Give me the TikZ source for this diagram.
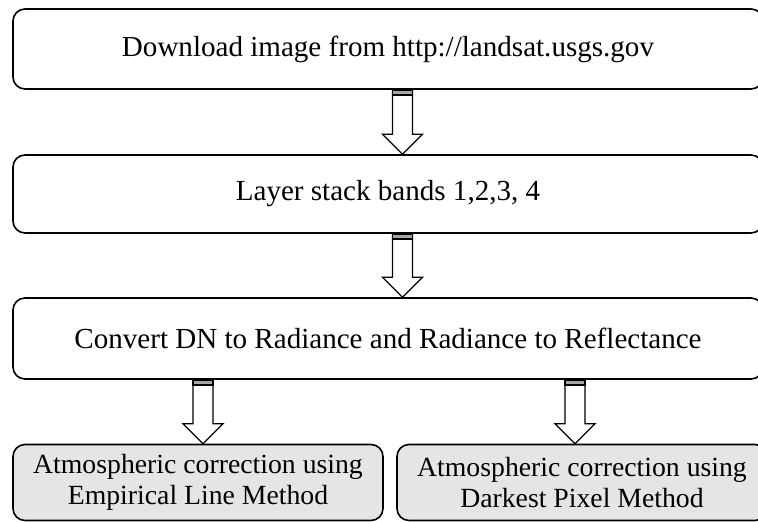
\documentclass[tikz,border=0pt]{standalone}
\usepackage{fontspec}
\setmainfont{Liberation Serif}
\usetikzlibrary{calc}

% hollow block arrow at abscissa #1, from the bottom of node #2 to the top of node #3
\newcommand\hollowarrow[3]{%
  \path (#1,0 |- #2.south) coordinate (ha-top)
        (#1,0 |- #3.north) coordinate (ha-tip)
        ($(ha-tip)+(0,-20)$) coordinate (ha-base);
  \draw[blockarrow]
    ($(ha-top)+(-10,0)$) -- ($(ha-base)+(-10,0)$) -- ($(ha-base)+(-20,0)$)
    -- (ha-tip) -- ($(ha-base)+(20,0)$) -- ($(ha-base)+(10,0)$)
    -- ($(ha-top)+(10,0)$) -- cycle;
  \draw[arrowcap] ($(ha-top)+(-10,0)$) rectangle ($(ha-top)+(10,5.5)$);
}

\tikzset{
  stepbox/.style={draw=black, line width=1.2pt, rounded corners=9pt, fill=white,
    inner sep=0pt, align=center, font=\fontsize{21.8}{24}\selectfont},
  resultbox/.style={stepbox, fill=black!10, font=\fontsize{20.8}{23.5}\selectfont},
  blockarrow/.style={draw=black, line width=1pt, fill=white, line join=miter},
  arrowcap/.style={draw=black, line width=1.3pt, fill=black!35},
}

\begin{document}
\begin{tikzpicture}[x=0.75pt, y=-0.75pt]
  \useasboundingbox (0,0) rectangle (758,522);

  \node[stepbox, minimum width=750*0.75pt, minimum height=80*0.75pt]
    (b1) at (388,49) {Download image from http://landsat.usgs.gov};
  \node[stepbox, minimum width=750*0.75pt, minimum height=78*0.75pt]
    (b2) at (388,194) {Layer stack bands 1,2,3, 4};
  \node[stepbox, minimum width=750*0.75pt, minimum height=81*0.75pt]
    (b3) at (388,338.5) {Convert DN to Radiance and Radiance to Reflectance};
  \node[resultbox, minimum width=370*0.75pt, minimum height=76*0.75pt]
    (b4) at (198,482.5) {Atmospheric correction using\\Empirical Line Method};
  \node[resultbox, minimum width=370*0.75pt, minimum height=76*0.75pt]
    (b5) at (582,482.5) {Atmospheric correction using\\Darkest Pixel Method};

  \hollowarrow{402.5}{b1}{b2}
  \hollowarrow{402.5}{b2}{b3}
  \hollowarrow{203}{b3}{b4}
  \hollowarrow{575}{b3}{b5}
\end{tikzpicture}
\end{document}
